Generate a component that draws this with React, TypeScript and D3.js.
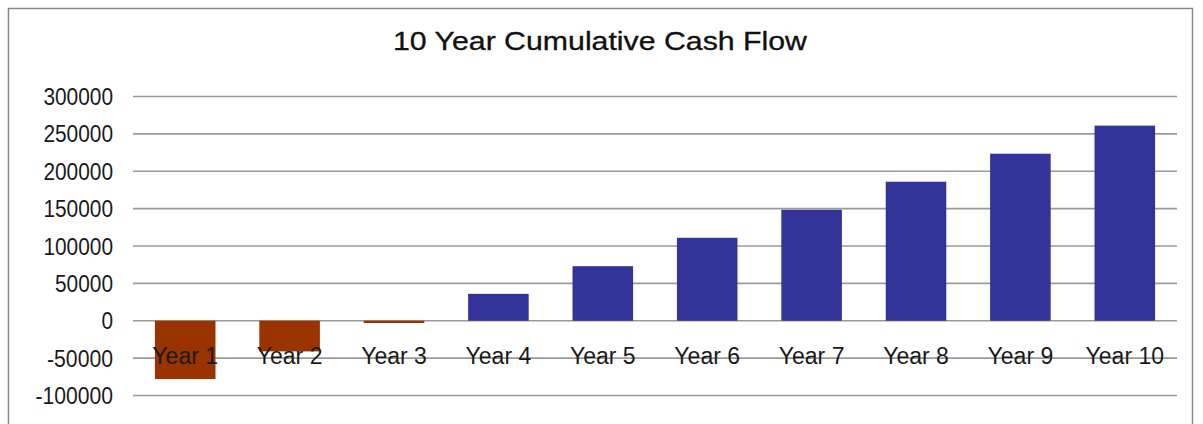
import React from "react";
import * as d3 from "d3";

const categories = ["Year 1", "Year 2", "Year 3", "Year 4", "Year 5", "Year 6", "Year 7", "Year 8", "Year 9", "Year 10"];
const cashFlow = [-78000, -41000, -3000, 36000, 73000, 111000, 148500, 186000, 223500, 261000];
const yTicks = [300000, 250000, 200000, 150000, 100000, 50000, 0, -50000, -100000];
const title = "10 Year Cumulative Cash Flow";

const W = 1203;
const H = 424;
const FONT = "'Liberation Sans', Arial, sans-serif";

export default function App() {
  const x = d3
    .scaleBand<string>()
    .domain(categories)
    .range([133, 1177])
    .paddingInner(0.42)
    .paddingOuter(0.21);
  const y = d3.scaleLinear().domain([-100000, 300000]).range([395.5, 96.5]);

  const labelLen = (t: number) => {
    const s = String(t);
    const digits = s.replace("-", "").length;
    return digits * 11.6 + (s.startsWith("-") ? 8 : 0);
  };

  return (
    <svg
      width={W}
      height={H}
      style={{ position: "absolute", left: 0, top: 0, background: "#fff" }}
    >
      <rect x={8.5} y={8.5} width={1184} height={430} fill="#fff" stroke="#888" strokeWidth={1.5} />
      <text
        x={600}
        y={49.5}
        textAnchor="middle"
        fontFamily={FONT}
        fontSize={25}
        fill="#111"
        stroke="#111"
        strokeWidth={0.3}
        textLength={414}
        lengthAdjust="spacingAndGlyphs"
      >
        {title}
      </text>
      {yTicks.map((t) => (
        <g key={t}>
          <line x1={133} x2={1177} y1={y(t)} y2={y(t)} stroke="#9a9a9a" strokeWidth={1.6} />
          <text
            x={113}
            y={y(t) + 8.6}
            textAnchor="end"
            fontFamily={FONT}
            fontSize={23}
            textLength={labelLen(t)}
            lengthAdjust="spacingAndGlyphs"
            fill="#1a1a1a"
          >
            {t}
          </text>
        </g>
      ))}
      {categories.map((c, i) => {
        const v = cashFlow[i];
        const y0 = y(0);
        const yv = y(v);
        return (
          <rect
            key={c}
            x={x(c)}
            y={Math.min(y0, yv)}
            width={x.bandwidth()}
            height={Math.abs(yv - y0)}
            fill={v < 0 ? "#993300" : "#333399"}
          />
        );
      })}
      {categories.map((c) => (
        <text
          key={c}
          x={(x(c) ?? 0) + x.bandwidth() / 2}
          y={364.3}
          textAnchor="middle"
          fontFamily={FONT}
          fontSize={23}
          fill="#1a1a1a"
        >
          {c}
        </text>
      ))}
    </svg>
  );
}
